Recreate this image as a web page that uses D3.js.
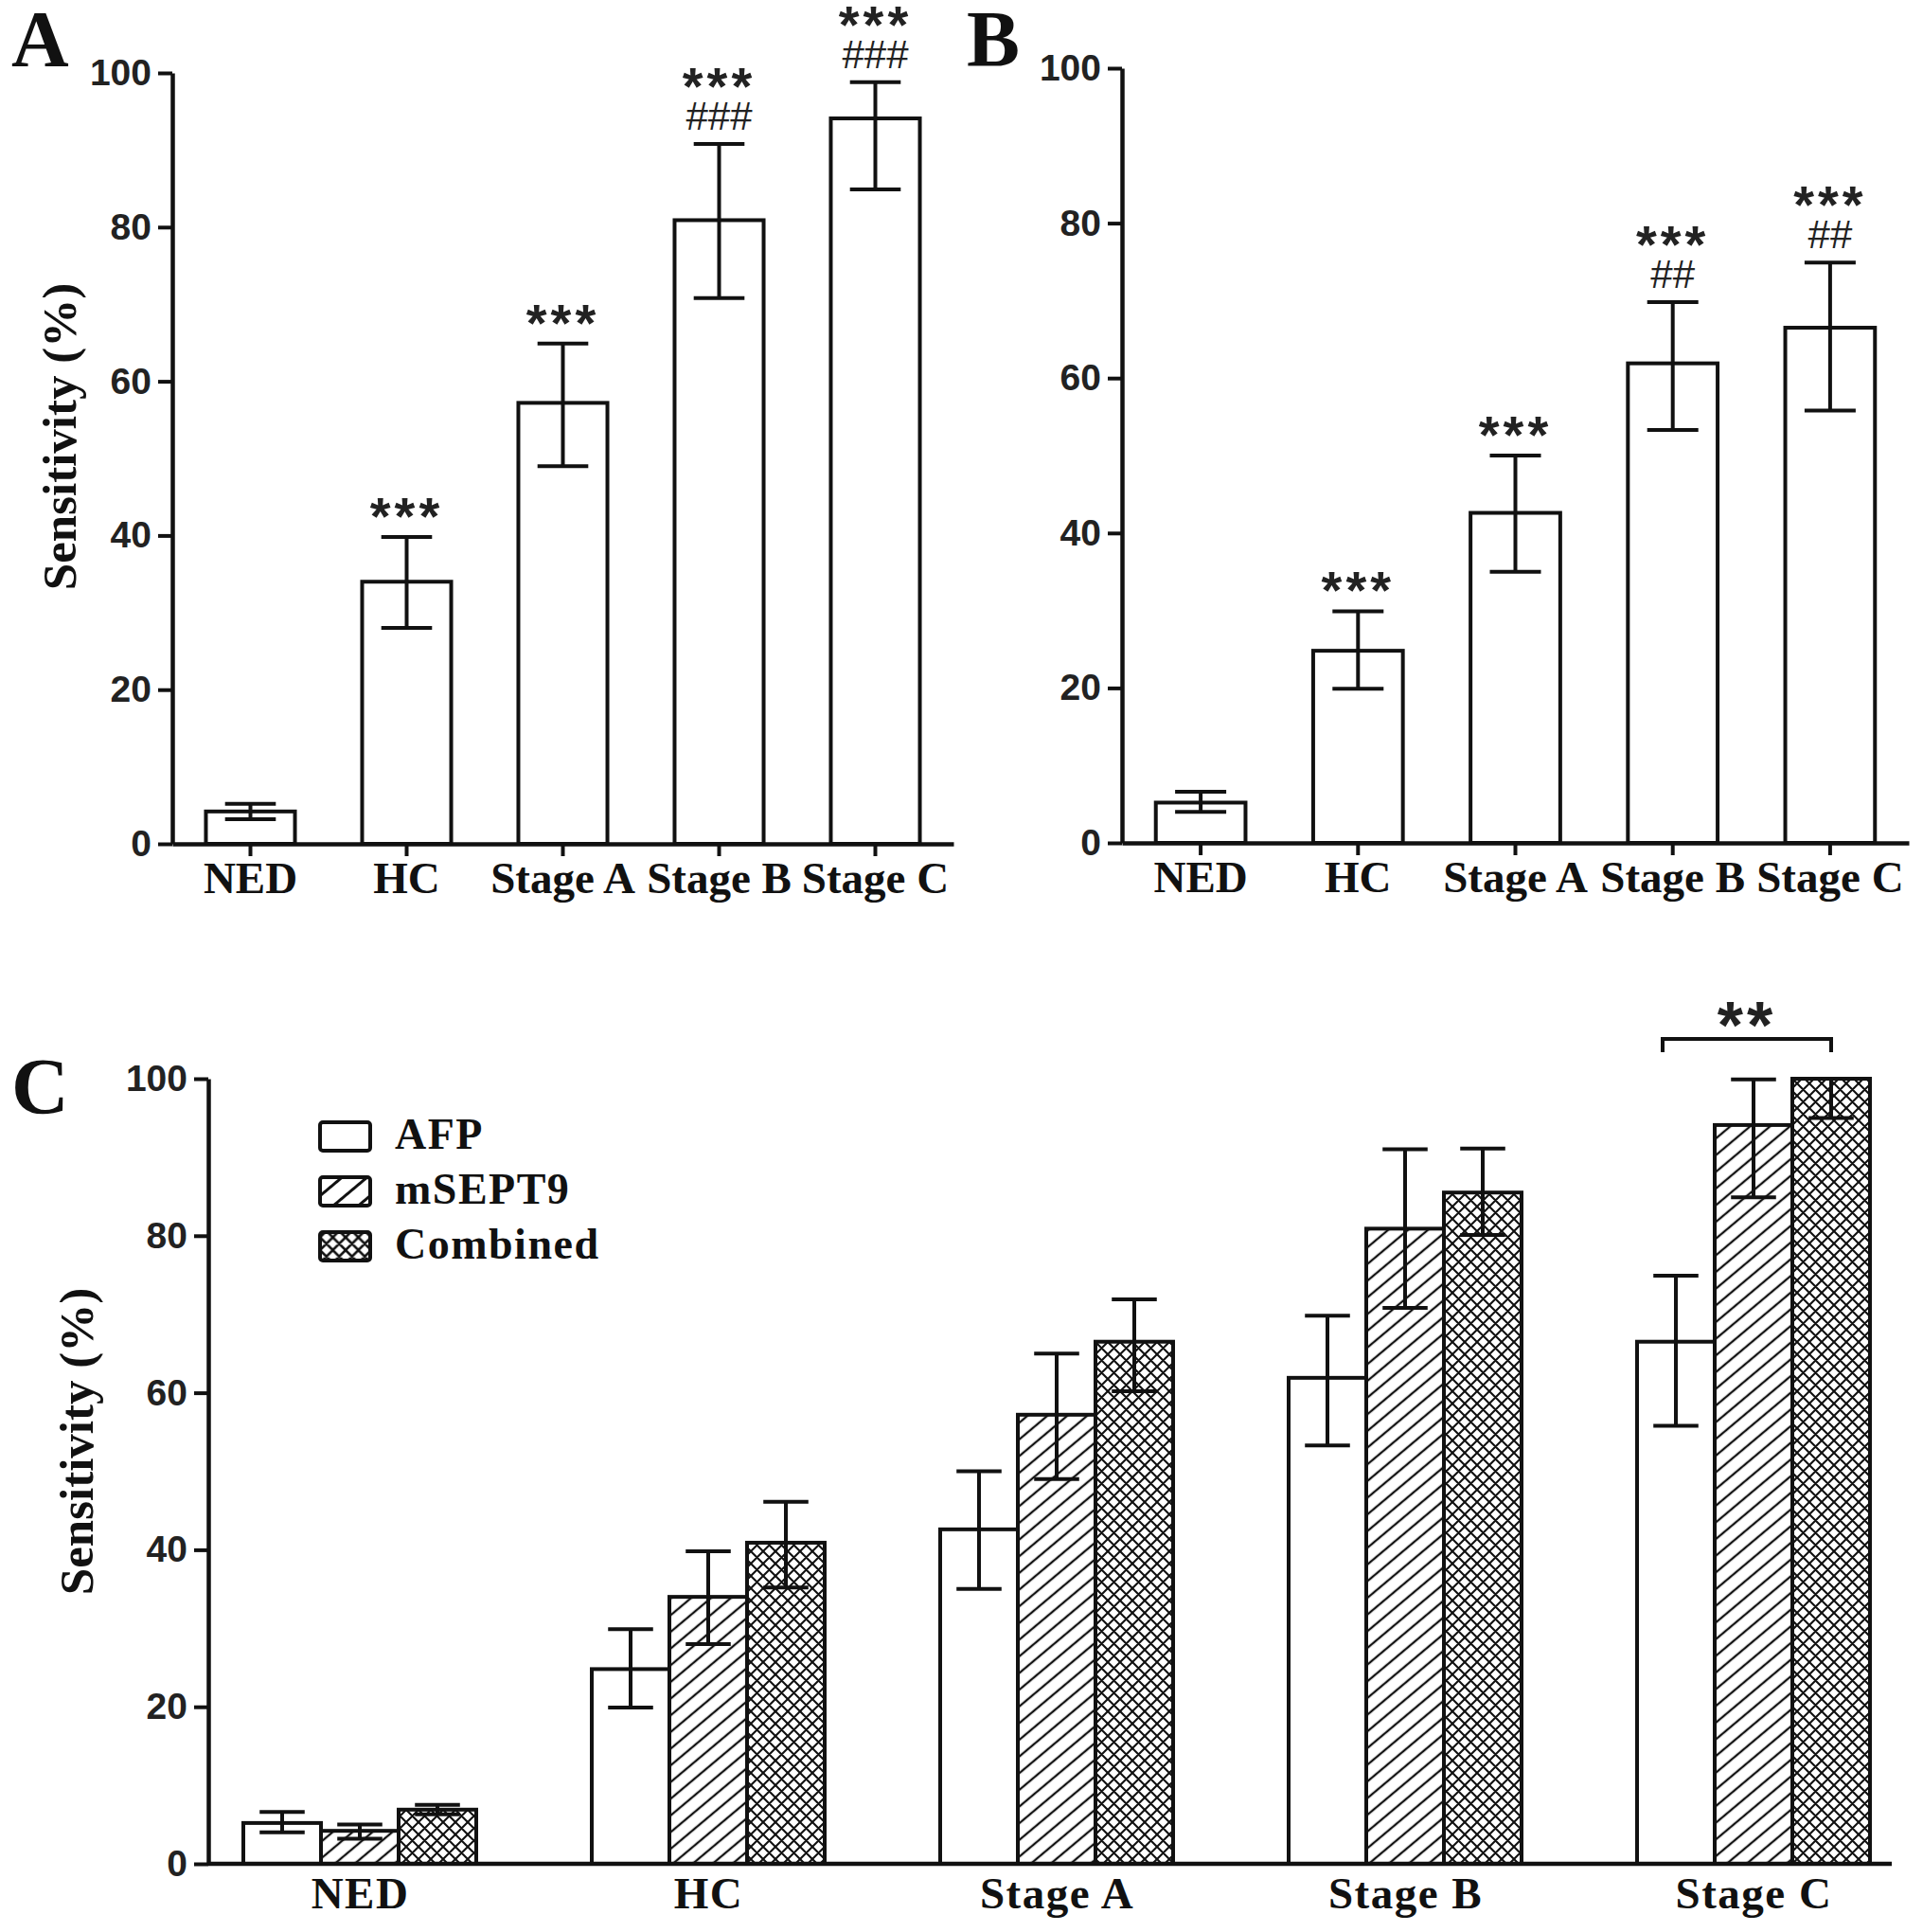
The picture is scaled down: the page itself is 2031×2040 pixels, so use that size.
<!DOCTYPE html>
<html>
<head>
<meta charset="utf-8">
<script src="https://cdn.jsdelivr.net/npm/d3@7"></script>
<style>
  html, body { margin: 0; padding: 0; background: #fff; }
  svg { display: block; }
</style>
</head>
<body>
<svg id="chart" width="2031" height="2040"></svg>
<script>
// ---------------- DATA ----------------
const categories = ["NED", "HC", "Stage A", "Stage B", "Stage C"];
const yTicks = [0, 20, 40, 60, 80, 100];
const seriesNames = ["AFP", "mSEPT9", "Combined"];

// mSEPT9 sensitivity (panel A and panel C hatched bars)
const mSEPT9Value = [4.2, 34.0, 57.2, 80.9, 94.1];
const mSEPT9Low   = [3.2, 28.0, 49.0, 70.8, 84.9];
const mSEPT9High  = [5.2, 39.8, 64.9, 90.8, 98.8];
const mSEPT9HighC = [5.0, 39.8, 65.0, 91.0, 99.9];

// AFP sensitivity (panel B and panel C open bars)
const afpValue = [5.2, 24.8, 42.6, 61.9, 66.5];
const afpLow   = [4.0, 19.9, 35.0, 53.3, 55.8];
const afpHigh  = [6.6, 29.9, 50.0, 69.8, 74.9];

// Combined sensitivity (panel C cross-hatched bars)
const combinedValue = [6.9, 40.9, 66.5, 85.5, 100.0];
const combinedLow   = [6.3, 35.2, 60.2, 80.1, 95.0];
const combinedHigh  = [7.5, 46.1, 71.9, 91.1, 100.0];

// significance marks
const starsA  = ["", "***", "***", "***", "***"];
const hashesA = ["", "", "", "###", "###"];
const starsB  = ["", "***", "***", "***", "***"];
const hashesB = ["", "", "", "##", "##"];
const bracketLabelC = "**";

const yLabel = "Sensitivity (%)";

// ---------------- DRAWING ----------------
const INK = "#111";
const svg = d3.select("#chart");
svg.append("rect").attr("width", 2031).attr("height", 2040).attr("fill", "#fff");

const SERIF = "'Liberation Serif', 'Times New Roman', serif";
const SANS = "'Liberation Sans', Arial, sans-serif";
const STAR_FS = 56, HASH_FS = 42;

// patterns
const defs = svg.append("defs");
function hatchPattern(id, spacing, sw, angle) {
  const p = defs.append("pattern").attr("id", id).attr("patternUnits", "userSpaceOnUse")
    .attr("width", 20).attr("height", spacing)
    .attr("patternTransform", `rotate(${angle})`);
  p.append("rect").attr("width", 20).attr("height", spacing).attr("fill", "#fff");
  p.append("line").attr("x1", 0).attr("x2", 20).attr("y1", spacing / 2).attr("y2", spacing / 2)
    .attr("stroke", INK).attr("stroke-width", sw);
}
function crossPattern(id, s, sw) {
  const p = defs.append("pattern").attr("id", id).attr("patternUnits", "userSpaceOnUse")
    .attr("width", s).attr("height", s);
  p.append("rect").attr("width", s).attr("height", s).attr("fill", "#fff");
  let d = "";
  for (let k = -1; k <= 1; k++) d += `M${-s},${-s + k * s}L${2 * s},${2 * s + k * s}`;
  for (let k = 0; k <= 2; k++) d += `M${-s},${k * s + s}L${2 * s},${k * s - 2 * s}`;
  p.append("path").attr("d", d).attr("stroke", INK).attr("stroke-width", sw).attr("fill", "none");
}
hatchPattern("hatch", 13.5, 2.3, -40);
crossPattern("cross", 13, 2.1);
hatchPattern("hatchL", 17, 3, -40);
crossPattern("crossL", 13.5, 2.6);

function styleYAxis(g) {
  g.select(".domain").attr("stroke", INK).attr("stroke-width", 4.5);
  g.selectAll(".tick line").attr("stroke", INK).attr("stroke-width", 4);
  g.selectAll(".tick text").attr("font-family", SANS).attr("font-weight", "bold")
    .attr("font-size", 39).attr("fill", "#222");
}

function drawSinglePanel(o) {
  const x = d3.scaleBand().domain(categories).range([o.x0, o.x1]).paddingInner(0.43).paddingOuter(0.215);
  const y = d3.scaleLinear().domain([0, 100]).range([o.yBottom, o.yTop]);
  const g = svg.append("g");
  const bw = x.bandwidth();
  const capW = bw * 0.57;

  g.selectAll("rect.bar").data(categories).join("rect")
    .attr("x", d => x(d)).attr("width", bw)
    .attr("y", (d, i) => y(o.values[i])).attr("height", (d, i) => y(0) - y(o.values[i]))
    .attr("fill", "#fff").attr("stroke", INK).attr("stroke-width", 4);

  const eb = g.selectAll("g.err").data(categories).join("g");
  eb.append("line").attr("x1", d => x(d) + bw / 2).attr("x2", d => x(d) + bw / 2)
    .attr("y1", (d, i) => y(o.highs[i])).attr("y2", (d, i) => y(o.lows[i]));
  eb.append("line").attr("x1", d => x(d) + bw / 2 - capW / 2).attr("x2", d => x(d) + bw / 2 + capW / 2)
    .attr("y1", (d, i) => y(o.highs[i])).attr("y2", (d, i) => y(o.highs[i]));
  eb.append("line").attr("x1", d => x(d) + bw / 2 - capW / 2).attr("x2", d => x(d) + bw / 2 + capW / 2)
    .attr("y1", (d, i) => y(o.lows[i])).attr("y2", (d, i) => y(o.lows[i]));
  eb.selectAll("line").attr("stroke", INK).attr("stroke-width", 4);

  // annotations
  categories.forEach((c, i) => {
    const cx = x(c) + bw / 2;
    const cap = y(o.highs[i]);
    const hasHash = o.hashes[i] !== "";
    if (hasHash) {
      g.append("text").attr("x", cx).attr("y", cap - 30 + 0.36 * HASH_FS)
        .attr("text-anchor", "middle").attr("font-family", SANS).attr("font-size", HASH_FS)
        .attr("fill", "#222").text(o.hashes[i]);
    }
    if (o.stars[i] !== "") {
      const center = hasHash ? cap - 67 : cap - 28;
      g.append("text").attr("x", cx).attr("y", center + 0.445 * STAR_FS)
        .attr("text-anchor", "middle").attr("font-family", SANS).attr("font-weight", "bold")
        .attr("font-size", STAR_FS).attr("letter-spacing", 4).attr("fill", "#222").text(o.stars[i]);
    }
  });

  // axes
  const ya = g.append("g").attr("transform", `translate(${o.x0},0)`)
    .call(d3.axisLeft(y).tickValues(yTicks).tickSize(15).tickSizeOuter(0).tickPadding(7));
  styleYAxis(ya);
  const xa = g.append("g").attr("transform", `translate(0,${o.yBottom})`)
    .call(d3.axisBottom(x).tickSize(13).tickSizeOuter(0));
  xa.select(".domain").attr("stroke", INK).attr("stroke-width", 4.5);
  xa.selectAll(".tick line").attr("stroke", INK).attr("stroke-width", 4);
  xa.selectAll(".tick text").attr("dy", 0).attr("y", 52)
    .attr("font-family", SERIF).attr("font-weight", "bold").attr("font-size", 47).attr("fill", INK);

  if (o.yLabel) {
    g.append("text").attr("transform", `translate(${o.yLabelX},${o.yLabelY}) rotate(-90)`)
      .attr("text-anchor", "middle").attr("font-family", SERIF).attr("font-weight", "bold")
      .attr("font-size", 51).attr("fill", INK).text(o.yLabel);
  }
  svg.append("text").attr("x", o.letterX).attr("y", o.letterY)
    .attr("font-family", SERIF).attr("font-weight", "bold").attr("font-size", 84).attr("fill", INK)
    .text(o.letter);
}

drawSinglePanel({
  x0: 182, x1: 1007, yTop: 77, yBottom: 891,
  values: mSEPT9Value, lows: mSEPT9Low, highs: mSEPT9High,
  stars: starsA, hashes: hashesA,
  yLabel: yLabel, yLabelX: 80, yLabelY: 461,
  letter: "A", letterX: 12, letterY: 70
});

drawSinglePanel({
  x0: 1185, x1: 2016, yTop: 72, yBottom: 890,
  values: afpValue, lows: afpLow, highs: afpHigh,
  stars: starsB, hashes: hashesB,
  yLabel: null,
  letter: "B", letterX: 1021, letterY: 70
});

// ---------------- PANEL C ----------------
(function () {
  const axisX = 220, axisEnd = 1998, yBottom = 1968, yTop = 1139;
  const x = d3.scalePoint().domain(categories).range([380, 1852]);
  const xs = d3.scaleBand().domain(seriesNames).range([-123, 123]);
  const y = d3.scaleLinear().domain([0, 100]).range([yBottom, yTop]);
  const bw = xs.bandwidth();
  const capW = bw * 0.58;
  const fills = { AFP: "#fff", mSEPT9: "url(#hatch)", Combined: "url(#cross)" };
  const series = [
    { name: "AFP", v: afpValue, lo: afpLow, hi: afpHigh },
    { name: "mSEPT9", v: mSEPT9Value, lo: mSEPT9Low, hi: mSEPT9HighC },
    { name: "Combined", v: combinedValue, lo: combinedLow, hi: combinedHigh }
  ];
  const g = svg.append("g");

  series.forEach(s => {
    g.selectAll(null).data(categories).join("rect")
      .attr("x", d => x(d) + xs(s.name)).attr("width", bw)
      .attr("y", (d, i) => y(s.v[i])).attr("height", (d, i) => y(0) - y(s.v[i]))
      .attr("fill", fills[s.name]).attr("stroke", INK).attr("stroke-width", 4);
  });
  series.forEach(s => {
    categories.forEach((c, i) => {
      const cx = x(c) + xs(s.name) + bw / 2;
      const e = g.append("g").attr("stroke", INK).attr("stroke-width", 4);
      e.append("line").attr("x1", cx).attr("x2", cx).attr("y1", y(s.hi[i])).attr("y2", y(s.lo[i]));
      e.append("line").attr("x1", cx - capW / 2).attr("x2", cx + capW / 2).attr("y1", y(s.hi[i])).attr("y2", y(s.hi[i]));
      e.append("line").attr("x1", cx - capW / 2).attr("x2", cx + capW / 2).attr("y1", y(s.lo[i])).attr("y2", y(s.lo[i]));
    });
  });

  // significance bracket for Stage C: AFP vs Combined
  const bl = x("Stage C") + xs("AFP") + bw / 2 - 14;
  const br = x("Stage C") + xs("Combined") + bw / 2;
  const by = y(100) - 42;
  g.append("path").attr("d", `M${bl},${by + 14}V${by}H${br}V${by + 14}`)
    .attr("fill", "none").attr("stroke", INK).attr("stroke-width", 4);
  g.append("text").attr("x", (bl + br) / 2).attr("y", by - 30 + 0.575 * 70)
    .attr("text-anchor", "middle").attr("font-family", SANS).attr("font-weight", "bold")
    .attr("font-size", 70).attr("letter-spacing", 4).attr("fill", "#222").text(bracketLabelC);

  // axes
  const ya = g.append("g").attr("transform", `translate(${axisX},0)`)
    .call(d3.axisLeft(y).tickValues(yTicks).tickSize(15).tickSizeOuter(0).tickPadding(7));
  styleYAxis(ya);
  g.append("line").attr("x1", axisX).attr("x2", axisEnd).attr("y1", yBottom).attr("y2", yBottom)
    .attr("stroke", INK).attr("stroke-width", 4.5);
  const xa = g.append("g").attr("transform", `translate(0,${yBottom})`)
    .call(d3.axisBottom(x).tickSize(0));
  xa.select(".domain").remove();
  xa.selectAll(".tick text").attr("dy", 0).attr("y", 47)
    .attr("font-family", SERIF).attr("font-weight", "bold").attr("font-size", 47)
    .attr("letter-spacing", 1.5).attr("fill", INK);

  g.append("text").attr("transform", `translate(98,1522) rotate(-90)`)
    .attr("text-anchor", "middle").attr("font-family", SERIF).attr("font-weight", "bold")
    .attr("font-size", 51).attr("fill", INK).text(yLabel);

  // legend
  const legFills = { AFP: "#fff", mSEPT9: "url(#hatchL)", Combined: "url(#crossL)" };
  const leg = g.append("g").attr("transform", "translate(338,1185)");
  seriesNames.forEach((n, i) => {
    leg.append("rect").attr("x", 0).attr("y", i * 58).attr("width", 53).attr("height", 30)
      .attr("rx", 3).attr("fill", legFills[n]).attr("stroke", INK).attr("stroke-width", 4);
    leg.append("text").attr("x", 79).attr("y", i * 58 + 28)
      .attr("font-family", SERIF).attr("font-weight", "bold").attr("font-size", 46)
      .attr("letter-spacing", 1.5).attr("fill", INK).text(n);
  });

  svg.append("text").attr("x", 12).attr("y", 1176)
    .attr("font-family", SERIF).attr("font-weight", "bold").attr("font-size", 84).attr("fill", INK)
    .text("C");
})();
</script>
</body>
</html>
